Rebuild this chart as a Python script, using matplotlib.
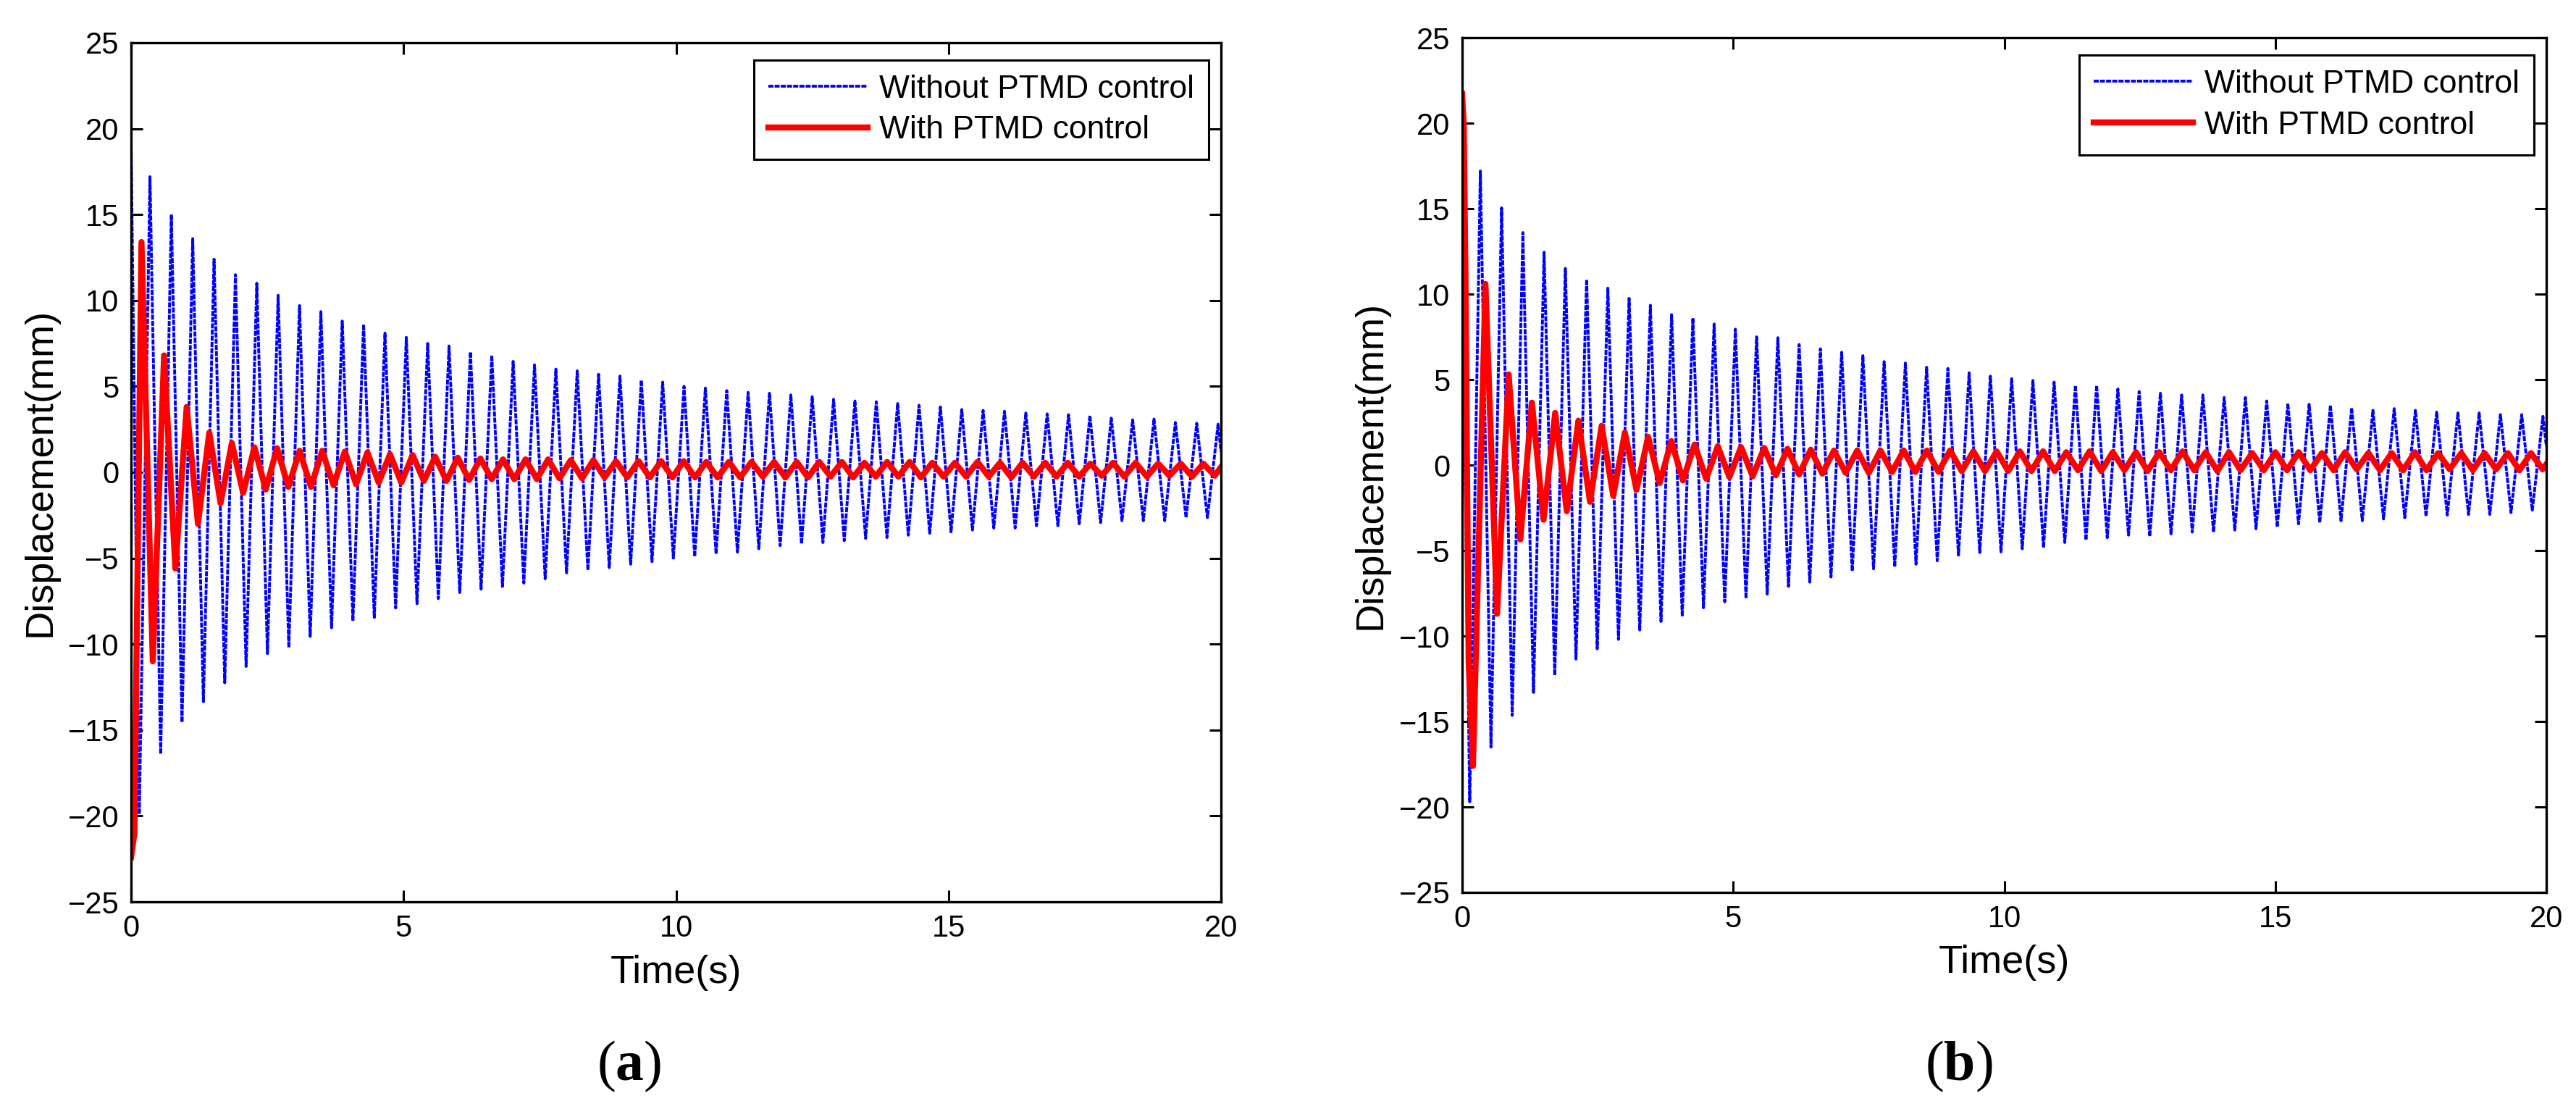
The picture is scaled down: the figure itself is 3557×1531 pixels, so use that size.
import numpy as np
import matplotlib

matplotlib.use("Agg")
import matplotlib.pyplot as plt

# ---------------- data ----------------
t_end = 20.0

# (a) without PTMD: start value, then alternating trough/peak every half period
blue_a_start = 19.0
blue_a_t0, blue_a_half = 0.15, 0.196
blue_a_troughs = [-19.9, -16.4, -14.55, -13.35, -12.25, -11.3, -10.55, -10.2, -9.55, -9.05,
                  -8.65, -8.45, -7.9, -7.65, -7.35, -7.0, -6.8, -6.65, -6.45, -6.2,
                  -5.85, -5.7, -5.55, -5.35, -5.2, -5.0, -4.9, -4.75, -4.65, -4.45,
                  -4.27, -4.17, -4.09, -3.98, -3.85, -3.8, -3.66, -3.55, -3.47, -3.36,
                  -3.25, -3.25, -3.11, -3.11, -3.0, -2.93, -2.82, -2.82, -2.82, -2.64, -2.64]
blue_a_peaks = [17.2, 15.0, 13.6, 12.4, 11.5, 11.0, 10.3, 9.7, 9.35, 8.8,
                8.6, 8.1, 7.85, 7.5, 7.35, 7.0, 6.8, 6.45, 6.25, 6.0,
                5.9, 5.7, 5.6, 5.35, 5.25, 5.0, 4.9, 4.75, 4.65, 4.6,
                4.5, 4.4, 4.25, 4.15, 4.1, 4.0, 3.9, 3.8, 3.65, 3.6,
                3.55, 3.45, 3.4, 3.35, 3.3, 3.15, 3.05, 3.1, 2.9, 2.85, 2.8]
blue_a_end = 1.2

# (a) with PTMD: transient start, then alternating peak/trough
red_a_start_t = [0.0, 0.06]
red_a_start_v = [-22.4, -21.0]
red_a_t0, red_a_half = 0.19, 0.2073
red_a_peaks = [13.4, 6.8, 3.8, 2.3, 1.7, 1.45, 1.4, 1.25, 1.25, 1.2, 1.15, 1.05, 1.0, 0.9,
               0.85, 0.8, 0.75, 0.75, 0.75, 0.7, 0.7, 0.65, 0.65,
               0.65, 0.65, 0.6, 0.6, 0.6, 0.6, 0.6, 0.6, 0.6, 0.55, 0.6, 0.6, 0.55, 0.55,
               0.6, 0.55, 0.55, 0.55, 0.55, 0.5, 0.55, 0.55, 0.5, 0.5, 0.5]
red_a_troughs = [-11.0, -5.6, -3.0, -1.8, -1.2, -1.0, -0.85, -0.85, -0.75, -0.7, -0.6, -0.6,
                 -0.5, -0.5, -0.45, -0.4, -0.4, -0.4, -0.35, -0.35, -0.3, -0.3,
                 -0.3, -0.3, -0.3, -0.3, -0.3, -0.25, -0.3, -0.3, -0.25, -0.3, -0.25, -0.25,
                 -0.3, -0.25, -0.25, -0.25, -0.3, -0.25, -0.25, -0.25, -0.2, -0.25, -0.25,
                 -0.2, -0.25, -0.2]
red_a_end = 0.3

# (b) without PTMD
blue_b_start = 12.1
blue_b_t0, blue_b_half = 0.14, 0.196
blue_b_troughs = [-19.7, -16.5, -14.65, -13.3, -12.3, -11.35, -10.75, -10.2, -9.65, -9.15,
                  -8.85, -8.35, -8.0, -7.8, -7.55, -7.1, -6.85, -6.55, -6.2, -6.07,
                  -5.95, -5.8, -5.6, -5.27, -5.12, -5.08, -4.9, -4.83, -4.53, -4.39,
                  -4.25, -4.1, -4.17, -4.03, -3.92, -3.92, -3.8, -3.73, -3.62, -3.44,
                  -3.37, -3.26, -3.26, -3.15, -3.08, -3.0, -2.93, -2.89, -2.89, -2.78, -2.64]
blue_b_peaks = [17.2, 15.05, 13.6, 12.45, 11.5, 10.85, 10.35, 9.75, 9.35, 8.8,
                8.6, 8.25, 7.95, 7.5, 7.45, 7.05, 6.8, 6.6, 6.4, 6.05,
                5.97, 5.72, 5.65, 5.4, 5.2, 5.05, 4.95, 4.85, 4.65, 4.65,
                4.45, 4.3, 4.2, 4.1, 4.1, 3.95, 3.95, 3.75, 3.6, 3.55,
                3.5, 3.35, 3.2, 3.3, 3.2, 3.1, 3.05, 3.05, 2.95, 2.95, 2.85]
blue_b_end = 1.1

# (b) with PTMD
red_b_start_t = [0.0, 0.03, 0.06, 0.12, 0.2]
red_b_start_v = [21.7, 19.8, 11.5, -11.5, -17.6]
red_b_t0, red_b_half = 0.43, 0.2143
red_b_peaks = [10.6, 5.3, 3.65, 3.05, 2.6, 2.3, 1.9, 1.65, 1.4, 1.2, 1.1, 1.05, 1.0, 0.95,
               0.9, 0.85, 0.85, 0.85, 0.85, 0.85, 0.85, 0.8,
               0.8, 0.8, 0.8, 0.75, 0.8, 0.75, 0.75, 0.75, 0.8, 0.75, 0.75, 0.7, 0.75, 0.75,
               0.7, 0.75, 0.7, 0.7, 0.75, 0.7, 0.7, 0.7, 0.7, 0.7]
red_b_troughs = [-8.7, -4.35, -3.2, -2.7, -2.15, -1.8, -1.45, -1.05, -0.9, -0.8, -0.7, -0.65,
                 -0.6, -0.55, -0.5, -0.45, -0.45, -0.4, -0.4, -0.4, -0.35,
                 -0.35, -0.35, -0.35, -0.35, -0.3, -0.35, -0.3, -0.35, -0.3, -0.3, -0.35,
                 -0.3, -0.3, -0.3, -0.3, -0.3, -0.25, -0.3, -0.3, -0.3, -0.25, -0.3, -0.25,
                 -0.3, -0.25]
red_b_end = 0.05

labels = ["Without PTMD control", "With PTMD control"]
panel_tags = ["a", "b"]


def interleave(first, second):
    out = np.empty(len(first) + len(second))
    out[0::2] = first
    out[1::2] = second
    return out


def build(start_t, start_v, t0, half, first, second, end_v):
    ext = interleave(first, second)
    t_ext = t0 + half * np.arange(len(ext))
    t = np.concatenate([start_t, t_ext, [t_end]])
    v = np.concatenate([start_v, ext, [end_v]])
    return t, v


panels = [
    (build([0.0], [blue_a_start], blue_a_t0, blue_a_half, blue_a_troughs, blue_a_peaks, blue_a_end),
     build(red_a_start_t, red_a_start_v, red_a_t0, red_a_half, red_a_peaks, red_a_troughs, red_a_end)),
    (build([0.0], [blue_b_start], blue_b_t0, blue_b_half, blue_b_troughs, blue_b_peaks, blue_b_end),
     build(red_b_start_t, red_b_start_v, red_b_t0, red_b_half, red_b_peaks, red_b_troughs, red_b_end)),
]

# ---------------- drawing ----------------
plt.rcParams["font.family"] = ["Liberation Sans", "DejaVu Sans"]
plt.rcParams["mathtext.fontset"] = "custom"
plt.rcParams["mathtext.bf"] = "Liberation Serif:bold"
plt.rcParams["mathtext.rm"] = "Liberation Serif"

fig = plt.figure(figsize=(35.57, 15.31), dpi=100)
ax_rects = [[0.0509, 0.1868, 0.4231, 0.7747], [0.5676, 0.1953, 0.4209, 0.7707]]
legend_anchor = [(0.9887, 0.9798), (0.9886, 0.9797)]
ylabel_x = [-0.0671, -0.0675]
xlabel_y = [-0.0616, -0.061]
tag_x = [0.2443, 0.7605]

for i, ((tb, vb), (tr, vr)) in enumerate(panels):
    ax = fig.add_axes(ax_rects[i])
    ax.plot(tb, vb, color="#0000ff", lw=2.8, ls=(0, (1.8, 0.4)), label=labels[0])
    ax.plot(tr, vr, color="#ff0000", lw=6.0, label=labels[1])
    ax.set_xlim(0, 20)
    ax.set_ylim(-25, 25)
    ax.set_xticks(np.arange(0, 21, 5))
    ax.set_yticks(np.arange(-25, 26, 5))
    ax.tick_params(direction="in", length=11.5, width=2.2, top=True, right=True,
                   labelsize=30, pad=12)
    for sp in ax.spines.values():
        sp.set_linewidth(2.4)
    ax.set_ylabel("Displacement(mm)", fontsize=39)
    ax.set_xlabel("Time(s)", fontsize=39)
    ax.yaxis.set_label_coords(ylabel_x[i], 0.5)
    ax.xaxis.set_label_coords(0.5, xlabel_y[i])
    leg = ax.legend(loc="upper right", bbox_to_anchor=legend_anchor[i], borderaxespad=0,
                    fontsize=32, fancybox=False, edgecolor="black", framealpha=1,
                    handlelength=3.1, handletextpad=0.35, borderpad=0.45, labelspacing=0.35)
    leg.get_frame().set_linewidth(2.2)
    fig.text(tag_x[i], 0.0385, "(" + r"$\mathbf{" + panel_tags[i] + "}$" + ")",
             family="Liberation Serif", fontsize=56, ha="center", va="center")

fig.savefig("out.png", dpi=100)
